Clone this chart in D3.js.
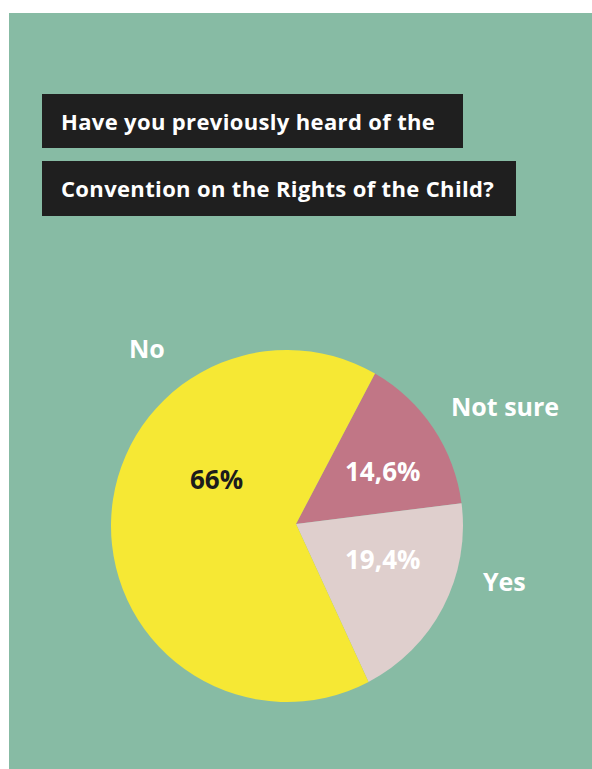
<!DOCTYPE html>
<html>
<head>
<meta charset="utf-8">
<script src="https://cdn.jsdelivr.net/npm/d3@7"></script>
<style>
  body { margin: 0; background: #fff; }
  text { font-family: "Open Sans", "DejaVu Sans", sans-serif; font-weight: 700; }
</style>
</head>
<body>
<svg id="chart"></svg>
<script>
// data
var titleLines = ["Have you previously heard of the", "Convention on the Rights of the Child?"];
var answers = ["Not sure", "Yes", "No"];
var shares = [14.6, 19.4, 66];
var shareLabels = ["14,6%", "19,4%", "66%"];

var W = 592, H = 769;
var sliceColors = ["#c17686", "#dfcfcd", "#f6e834"];
var pctColors = ["#ffffff", "#ffffff", "#1c1c1c"];

// layout
var panel = {x: 9, y: 13};
var boxes = [{x: 42, y: 94, w: 421, h: 54, base: 130}, {x: 42, y: 161, w: 474, h: 55, base: 197}];
var cx = 287, cy = 526, r = 176;
var vertex = [9, -2];               // slices meet slightly right of the circle centre
var startDeg = 30;
var nameAnchors = [[451, 416], [483, 591], [129, 358]];
var pctAnchors = [[345, 481], [345, 569], [190, 489]];

var svg = d3.select("#chart").attr("width", W).attr("height", H);

svg.append("rect")
    .attr("x", panel.x).attr("y", panel.y)
    .attr("width", W - panel.x).attr("height", H - panel.y)
    .attr("fill", "#87bba4");

// title boxes
var tg = svg.selectAll("g.title").data(titleLines).enter().append("g").attr("class", "title");
tg.append("rect")
    .attr("x", (d, i) => boxes[i].x).attr("y", (d, i) => boxes[i].y)
    .attr("width", (d, i) => boxes[i].w).attr("height", (d, i) => boxes[i].h)
    .attr("fill", "#1f1f1f");
tg.append("text")
    .attr("x", (d, i) => boxes[i].x + 19).attr("y", (d, i) => boxes[i].base)
    .attr("fill", "#ffffff").attr("font-size", 22)
    .attr("letter-spacing", 0.35)
    .text(d => d);

// pie
var a0 = startDeg * Math.PI / 180;
var pie = d3.pie().sort(null).value(d => d).startAngle(a0).endAngle(a0 + 2 * Math.PI);
var arcs = pie(shares);

function slicePath(d) {
    var p = d3.path();
    p.moveTo(vertex[0], vertex[1]);
    p.lineTo(r * Math.sin(d.startAngle), -r * Math.cos(d.startAngle));
    p.arc(0, 0, r, d.startAngle - Math.PI / 2, d.endAngle - Math.PI / 2, false);
    p.closePath();
    return p.toString();
}

var pg = svg.append("g").attr("transform", "translate(" + cx + "," + cy + ")");
pg.selectAll("path").data(arcs).enter().append("path")
    .attr("d", slicePath)
    .attr("fill", (d, i) => sliceColors[i]);

// answer names
svg.selectAll("text.name").data(answers).enter().append("text")
    .attr("class", "name")
    .attr("x", (d, i) => nameAnchors[i][0]).attr("y", (d, i) => nameAnchors[i][1])
    .attr("fill", "#ffffff").attr("font-size", 25)
    .text(d => d);

// percentages
svg.selectAll("text.pct").data(shareLabels).enter().append("text")
    .attr("class", "pct")
    .attr("x", (d, i) => pctAnchors[i][0]).attr("y", (d, i) => pctAnchors[i][1])
    .attr("fill", (d, i) => pctColors[i]).attr("font-size", 26)
    .text(d => d);
</script>
</body>
</html>
